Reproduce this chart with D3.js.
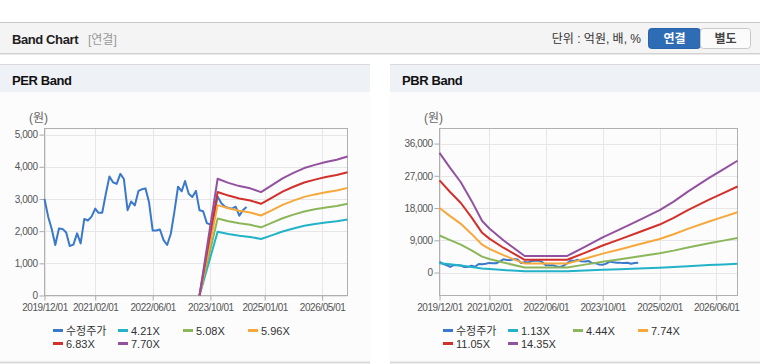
<!DOCTYPE html>
<html><head><meta charset="utf-8">
<script src="https://cdn.jsdelivr.net/npm/d3@7"></script>
<style>
html,body{margin:0;padding:0;background:#fff;}
svg{display:block;font-family:"Liberation Sans",Arial,"Noto Sans CJK KR",sans-serif;}
</style></head><body><svg id="c" width="760" height="364"></svg>
<script>
// ---------- DATA ----------
const priceName = "수정주가";
const priceStart = "2019-12-01";
const price = [3000,2450,2050,1570,2080,2070,1960,1540,1580,1930,
  1620,2380,2330,2450,2700,2570,2570,3150,3700,3520,
  3470,3780,3620,2650,2920,2800,3250,3300,3330,2900,
  2020,2020,2050,1720,1570,1920,2600,3380,3240,3560,
  3160,3060,3250,2650,2620,2250,2200,2500,3080,2870,
  2760,2720,2700,2760,2480,2650,2750];

const perLabels = ["4.21X","5.08X","5.96X","6.83X","7.70X"];
const perMonths = ["2023-07","2023-12","2024-03","2024-06","2024-09","2024-12","2025-03","2025-06","2025-09","2025-12","2026-03","2026-06","2026-09","2026-12"];
const per421 = [0,1984,1914,1859,1821,1756,1870,1990,2083,2165,2220,2269,2307,2362];
const per508 = [0,2393,2309,2243,2197,2119,2256,2401,2513,2612,2678,2738,2784,2850];
const per596 = [0,2808,2709,2632,2577,2486,2647,2817,2949,3065,3142,3212,3266,3344];
const per683 = [0,3218,3105,3016,2954,2849,3034,3229,3379,3513,3601,3681,3743,3832];
const per770 = [0,3628,3500,3400,3330,3212,3420,3640,3810,3960,4060,4150,4220,4320];
const perYTicks = [0,1000,2000,3000,4000,5000];
const perXTicks = ["2019-12-01","2021-02-01","2022-06-01","2023-10-01","2025-01-01","2026-05-01"];

const pbrLabels = ["1.13X","4.44X","7.74X","11.05X","14.35X"];
const pbrMonths = ["2019-12","2020-03","2020-06","2020-09","2020-12","2021-02","2021-06","2021-12","2022-12","2023-05","2023-10","2024-03","2024-08","2025-02","2025-06","2025-10","2026-04","2026-08","2026-12"];
const pbr113 = [2630,2300,1985,1575,1134,969,709,365,365,563,772,953,1142,1370,1559,1780,2079,2268,2457];
const pbr444 = [10334,9034,7797,6188,4455,3806,2785,1436,1436,2212,3032,3744,4486,5384,6126,6992,8168,8911,9653];
const pbr774 = [18016,15750,13593,10788,7767,6635,4855,2503,2503,3857,5286,6527,7821,9386,10680,12190,14240,15535,16829];
const pbr1105 = [25718,22484,19404,15400,11088,9471,6930,3573,3573,5506,7546,9317,11165,13398,15246,17402,20328,22176,24024];
const pbr1435 = [33400,29200,25200,20000,14400,12300,9000,4640,4640,7150,9800,12100,14500,17400,19800,22600,26400,28800,31200];
const pbrYTicks = [0,9000,18000,27000,36000];
const pbrXTicks = ["2019-12-01","2021-02-01","2022-06-01","2023-10-01","2025-02-01","2026-06-01"];

const xDomain = ["2019-12-01","2026-12-01"];

// ---------- STYLE ----------
const priceColor = "#3a79c9";
const bandColors = ["#22b3c8","#8cb65a","#f6a83a","#d3302b","#9352a0"];

const svg = d3.select("#c");
const parseDay = d3.timeParse("%Y-%m-%d");
const parseMonth = d3.timeParse("%Y-%m");
const fmtTick = d3.timeFormat("%Y/%m/%d");

// top header
svg.append("line").attr("x1",0).attr("x2",760).attr("y1",22.5).attr("y2",22.5).attr("stroke","#c8c8c8");
svg.append("rect").attr("x",0).attr("y",23).attr("width",760).attr("height",30).attr("fill","#f4f4f4");
svg.append("line").attr("x1",0).attr("x2",760).attr("y1",53.5).attr("y2",53.5).attr("stroke","#d2d2d2");
svg.append("line").attr("x1",0).attr("x2",760).attr("y1",54.5).attr("y2",54.5).attr("stroke","#e9e9e9");
svg.append("text").attr("x",12).attr("y",44).attr("font-size",13).attr("font-weight","bold")
  .attr("letter-spacing","-0.4").attr("fill","#1e1e1e").text("Band Chart");
svg.append("text").attr("x",88).attr("y",44).attr("font-size",12).attr("fill","#999").text("[연결]");
svg.append("text").attr("x",641).attr("y",43).attr("text-anchor","end").attr("font-size",12)
  .attr("fill","#333").text("단위 : 억원, 배, %");
svg.append("rect").attr("x",648.5).attr("y",28.5).attr("width",52).attr("height",20).attr("rx",3)
  .attr("fill","#2e6db5").attr("stroke","#2a64a8");
svg.append("rect").attr("x",700.5).attr("y",28.5).attr("width",50).attr("height",20).attr("rx",3)
  .attr("fill","#fbfbfb").attr("stroke","#c8c8c8");
svg.append("text").attr("x",674.5).attr("y",43).attr("text-anchor","middle").attr("font-size",12)
  .attr("font-weight","bold").attr("fill","#fff").text("연결");
svg.append("text").attr("x",725.5).attr("y",43).attr("text-anchor","middle").attr("font-size",12)
  .attr("font-weight","bold").attr("fill","#444").text("별도");

function drawPanel(o){
  const g = svg.append("g");
  g.append("rect").attr("x",o.px).attr("y",64).attr("width",370).attr("height",298).attr("fill","#fcfcfd");
  g.append("rect").attr("x",o.px).attr("y",65).attr("width",370).attr("height",27).attr("fill","#eef2f7");
  g.append("line").attr("x1",o.px).attr("x2",o.px+370).attr("y1",64.5).attr("y2",64.5).attr("stroke","#d8d8d8");
  g.append("line").attr("x1",o.px).attr("x2",o.px+370).attr("y1",362.5).attr("y2",362.5).attr("stroke","#dadada").attr("stroke-width",2);
  g.append("text").attr("x",o.px+12).attr("y",85).attr("font-size",13).attr("font-weight","bold")
    .attr("letter-spacing","-0.4").attr("fill","#111").text(o.title);
  g.append("text").attr("x",o.unitX).attr("y",122).attr("font-size",12).attr("fill","#666").text("(원)");

  const x = d3.scaleTime().domain(xDomain.map(parseDay)).range([o.left,o.right]);
  const y = d3.scaleLinear().domain(o.yDomain).range([295.5,128.5]);
  const w = o.right-o.left, h = 167;

  // grid
  g.append("g").selectAll("line").data(o.yTicks).join("line")
    .attr("x1",o.left).attr("x2",o.right).attr("y1",d=>Math.round(y(d))+0.5).attr("y2",d=>Math.round(y(d))+0.5)
    .attr("stroke","#e6e6e6");
  const xt = o.xTicks.map(parseDay);
  g.append("g").selectAll("line").data(xt).join("line")
    .attr("x1",d=>Math.round(x(d))+0.5).attr("x2",d=>Math.round(x(d))+0.5).attr("y1",128.5).attr("y2",295.5)
    .attr("stroke","#e6e6e6");

  // axes
  const ya = g.append("g").attr("transform",`translate(${o.left},0)`)
    .call(d3.axisLeft(y).tickValues(o.yTicks).tickSize(5).tickPadding(2).tickFormat(d3.format(",")));
  const xa = g.append("g").attr("transform",`translate(0,295.5)`)
    .call(d3.axisBottom(x).tickValues(xt).tickSize(5).tickPadding(3).tickFormat(fmtTick));
  [ya,xa].forEach(a=>{
    a.select(".domain").remove();
    a.selectAll(".tick line").attr("stroke","#aaa");
    a.selectAll(".tick text").attr("fill","#555").attr("font-size",10).attr("letter-spacing","-0.45")
      .attr("font-family","'Liberation Sans',Arial,sans-serif");
  });
  g.append("rect").attr("x",o.left).attr("y",128.5).attr("width",w).attr("height",h)
    .attr("fill","none").attr("stroke","#b0b0b0");

  const line = d3.line().x(d=>x(d[0])).y(d=>y(d[1]));
  const pdates = price.map((v,i)=>d3.timeMonth.offset(parseDay(priceStart),i));
  g.append("path").datum(price.map((v,i)=>[pdates[i],v])).attr("d",line)
    .attr("fill","none").attr("stroke",priceColor).attr("stroke-width",2).attr("stroke-linejoin","round");
  const bd = o.bandMonths.map(parseMonth);
  o.bands.forEach((arr,k)=>{
    g.append("path").datum(arr.map((v,i)=>[bd[i],v])).attr("d",line)
      .attr("fill","none").attr("stroke",bandColors[k]).attr("stroke-width",2).attr("stroke-linejoin","round");
  });

  // legend
  const items = [{n:priceName,c:priceColor}].concat(o.labels.map((n,i)=>({n,c:bandColors[i]})));
  items.forEach((it,i)=>{
    const col = i<4 ? i : i-4, row = i<4 ? 0 : 1;
    const lx = o.px+53+col*65, ly = 330+row*13;
    g.append("line").attr("x1",lx).attr("x2",lx+10).attr("y1",ly+0.5).attr("y2",ly+0.5)
      .attr("stroke",it.c).attr("stroke-width",3);
    g.append("text").attr("x",lx+13).attr("y",ly+4.5).attr("font-size",11).attr("fill","#333").text(it.n);
  });
}

drawPanel({px:0,title:"PER Band",unitX:29,left:44.5,right:347.5,yDomain:[0,5190],yTicks:perYTicks,
  xTicks:perXTicks,bandMonths:perMonths,bands:[per421,per508,per596,per683,per770],labels:perLabels});
drawPanel({px:390,title:"PBR Band",unitX:424,left:439.5,right:737.5,yDomain:[-6400,40200],yTicks:pbrYTicks,
  xTicks:pbrXTicks,bandMonths:pbrMonths,bands:[pbr113,pbr444,pbr774,pbr1105,pbr1435],labels:pbrLabels});
</script></body></html>
